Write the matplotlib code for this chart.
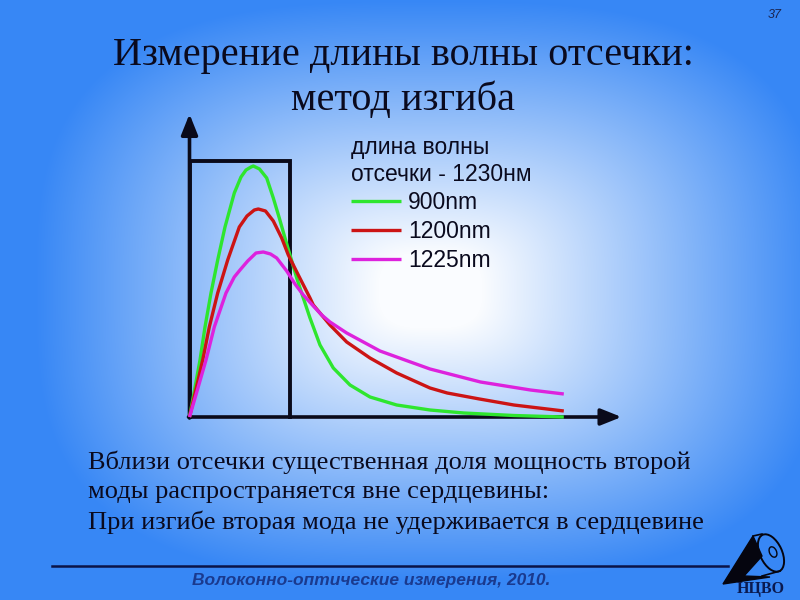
import numpy as np
import matplotlib
matplotlib.use('Agg')
import matplotlib.pyplot as plt
from matplotlib.patches import Polygon, Ellipse

plt.rcParams['font.family'] = ['Liberation Sans', 'DejaVu Sans']

# радиальная координата (в радиусах сердцевины) и интенсивность моды
green_x = [0, 0.045, 0.105, 0.155, 0.215, 0.282, 0.355, 0.448, 0.515, 0.565, 0.615, 0.638, 0.70,
           0.772, 0.838, 0.898, 0.955, 1.005, 1.072, 1.138, 1.205, 1.305, 1.438, 1.605, 1.805,
           2.072, 2.405, 2.743, 3.243, 3.743]
green_y = [0, 0.24, 0.57, 0.90, 1.24, 1.57, 1.90, 2.24, 2.40, 2.47, 2.50, 2.51, 2.48,
           2.39, 2.19, 1.99, 1.79, 1.62, 1.39, 1.19, 0.99, 0.72, 0.49, 0.32, 0.20,
           0.12, 0.07, 0.04, 0.015, 0.0]

red_x = [0, 0.056, 0.132, 0.198, 0.282, 0.382, 0.498, 0.575, 0.648, 0.688, 0.76, 0.838, 0.922,
         0.988, 1.088, 1.205, 1.238, 1.405, 1.572, 1.805, 2.072, 2.405, 2.577, 2.9, 3.243, 3.743]
red_y = [0, 0.24, 0.57, 0.90, 1.24, 1.57, 1.90, 2.01, 2.07, 2.08, 2.06, 1.96, 1.79,
         1.62, 1.42, 1.19, 1.12, 0.92, 0.75, 0.59, 0.44, 0.29, 0.24, 0.18, 0.12, 0.06]

mag_x = [0, 0.07, 0.165, 0.248, 0.365, 0.448, 0.505, 0.582, 0.665, 0.738, 0.81, 0.872, 0.972,
         1.055, 1.138, 1.238, 1.322, 1.405, 1.572, 1.905, 2.238, 2.405, 2.91, 3.41, 3.743]
mag_y = [0, 0.24, 0.57, 0.90, 1.24, 1.40, 1.47, 1.56, 1.64, 1.65, 1.63, 1.59, 1.46,
         1.33, 1.22, 1.11, 1.02, 0.95, 0.84, 0.66, 0.54, 0.48, 0.35, 0.27, 0.23]

labels = ['900nm', '1200nm', '1225nm']
colors = ['#2ee62e', '#cc1414', '#dd22dd']
core_r = 1.0
core_h = 2.56

fig = plt.figure(figsize=(8, 6), dpi=100)

# фон слайда: белый центр, синие края
bg = fig.add_axes([0, 0, 1, 1])
yy, xx = np.mgrid[0:600, 0:800]
d = ((np.abs(xx - 430) / 430.0) ** 3 + (np.abs(yy - 290) / 315.0) ** 3) ** (1 / 3.0)
t = np.clip((d - 0.12) / 0.80, 0, 1)
edge = np.array([55, 135, 245]) / 255.0
center = np.array([250, 252, 255]) / 255.0
img = center[None, None, :] * (1 - t[..., None]) + edge[None, None, :] * t[..., None]
bg.imshow(img, extent=[0, 800, 600, 0], aspect='auto')
bg.set_xlim(0, 800)
bg.set_ylim(600, 0)
bg.axis('off')

fig.text(403 / 800, 1 - 55 / 600, 'Измерение длины волны отсечки:', ha='center', va='center',
         fontsize=29, family='Liberation Serif', color='#0a0a1e')
fig.text(403 / 800, 1 - 100 / 600, 'метод изгиба', ha='center', va='center',
         fontsize=29, family='Liberation Serif', color='#0a0a1e')
fig.text(775 / 800, 1 - 15 / 600, '37', ha='center', va='center', fontsize=9,
         style='italic', color='#1a2550')

ax = fig.add_axes([180 / 800, 1 - 430 / 600, 450 / 800, 330 / 600])
ax.set_xlim(-0.095, 4.405)
ax.set_ylim(-0.13, 3.17)
ax.axis('off')

axcol = '#0a0a1a'
ax.plot([0, 0, core_r, core_r], [0, core_h, core_h, 0], color=axcol, lw=2.8,
        solid_joinstyle='miter', zorder=2)
ax.annotate('', xy=(0, 3.03), xytext=(0, -0.01),
            arrowprops=dict(arrowstyle='-|>,head_length=1.25,head_width=0.5', lw=2.6, color=axcol,
                            shrinkA=0, shrinkB=0))
ax.annotate('', xy=(4.32, 0), xytext=(-0.01, 0),
            arrowprops=dict(arrowstyle='-|>,head_length=1.25,head_width=0.5', lw=2.6, color=axcol,
                            shrinkA=0, shrinkB=0))

for xs, ys, c, lab in zip([green_x, red_x, mag_x], [green_y, red_y, mag_y], colors, labels):
    ax.plot(xs, ys, color=c, lw=2.4, label=lab, zorder=3,
            solid_joinstyle='round', solid_capstyle='butt')

leg = ax.legend(title='длина волны\nотсечки - 1230нм', loc='upper left',
                bbox_to_anchor=(351 / 800, 1 - 136 / 600), bbox_transform=fig.transFigure,
                frameon=False, fontsize=16.5, title_fontsize=16.5, alignment='left',
                handlelength=2.2, handletextpad=0.3, labelspacing=0.25,
                borderpad=0, borderaxespad=0)
for txt in leg.get_texts():
    txt.set_color('#0a0a1e')
leg.get_title().set_color('#0a0a1e')
for h in leg.get_lines():
    h.set_linewidth(2.4)

body = ['Вблизи отсечки существенная доля мощность второй',
        'моды распространяется вне сердцевины:',
        'При изгибе вторая мода не удерживается в сердцевине']
for i, line in enumerate(body):
    fig.text(88 / 800, 1 - (462 + 30 * i) / 600, line, ha='left', va='center',
             fontsize=19, family='Liberation Serif', color='#0a0a1e')

bg.plot([52, 728], [566, 566], color='#0a1448', lw=1.8)
fig.text(371 / 800, 1 - 580 / 600, 'Волоконно-оптические измерения, 2010.', ha='center',
         va='center', fontsize=12.5, weight='bold', style='italic',
         family=['Liberation Sans Narrow', 'Liberation Sans'], color='#1a3a8e')

# логотип НЦВО
bg.add_patch(Polygon([[723, 584], [753, 536], [762, 556], [744, 576], [770, 577]],
                     closed=True, color='#05050f'))
bg.add_patch(Ellipse((771, 553), 22, 40, angle=-25, fill=False, lw=1.4, ec='#05050f'))
bg.add_patch(Ellipse((773, 552), 7, 11, angle=-25, fill=False, lw=1.0, ec='#05050f'))
bg.plot([753, 762], [536, 534], color='#05050f', lw=1.2)
bg.plot([762, 780], [576, 571], color='#05050f', lw=1.2)
fig.text(761 / 800, 1 - 589 / 600, 'НЦВО', ha='center', va='center', fontsize=11.5,
         weight='bold', family='Liberation Serif', color='#0a1a50')

fig.savefig('out.png', dpi=100)
